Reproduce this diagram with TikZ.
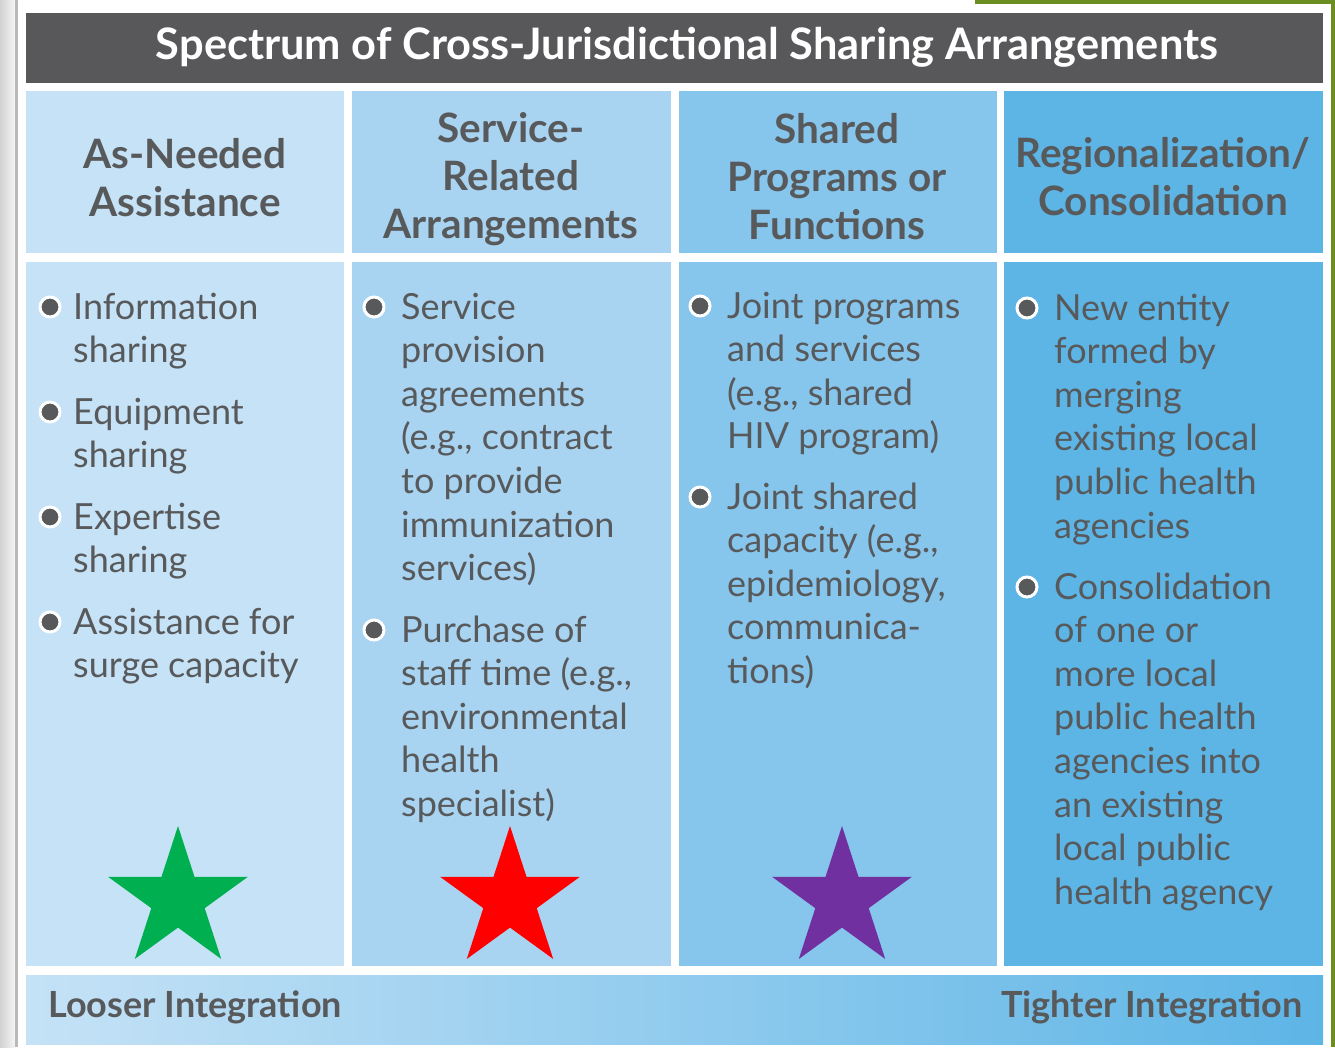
\documentclass[tikz,border=0pt]{standalone}
\usepackage{fontspec}
\setmainfont{Lato}
\usetikzlibrary{shapes.geometric}
\definecolor{txt}{HTML}{58595B}
\definecolor{ttl}{HTML}{58585A}
\definecolor{cA}{HTML}{C5E2F6}
\definecolor{cB}{HTML}{A8D4F2}
\definecolor{cC}{HTML}{86C5EC}
\definecolor{cD}{HTML}{5DB5E6}
\definecolor{stG}{HTML}{00B050}
\definecolor{stR}{HTML}{FF0000}
\definecolor{stP}{HTML}{7030A0}
\definecolor{frameG}{HTML}{6B8E23}
\begin{document}
\begin{tikzpicture}[x=1pt,y=-1pt,
  hdr/.style={anchor=base, text=txt, font=\fontsize{40.5}{48}\selectfont\bfseries, inner sep=0},
  item/.style={anchor=base west, text=txt, font=\fontsize{36}{43.6}\selectfont, inner sep=0},
  dot/.style={circle, fill=txt, draw=white, line width=3pt, minimum size=20pt, inner sep=0},
  bigstar/.style={star, star points=5, star point ratio=2.618, minimum size=147pt, inner sep=0, draw=none},
  band/.style={text=txt, font=\fontsize{36}{40}\selectfont\bfseries, inner sep=0}]

\useasboundingbox (0,0) rectangle (1335,1047);
\fill[white] (0,0) rectangle (1335,1047);
% frame surroundings
\shade[left color=gray!35, right color=gray!8] (0,0) rectangle (15,1047);
\fill[gray!55] (15,0) rectangle (18,1047);
\fill[frameG] (1331,0) rectangle (1335,1047);
\fill[frameG] (975,0) rectangle (1335,4);

% title
\fill[ttl] (26,13) rectangle (1323,83);
\node[text=white, font=\fontsize{43.4}{48}\selectfont\bfseries, anchor=base, inner sep=0] (title) at (687,59) {Spectrum of Cross-Jurisdictional Sharing Arrangements};

% header cells
\fill[cA] (26,91) rectangle (344,253);
\fill[cB] (352,91) rectangle (671,253);
\fill[cC] (679,91) rectangle (997,253);
\fill[cD] (1004,91) rectangle (1323,253);
% body cells
\fill[cA] (26,262) rectangle (344,966);
\fill[cB] (352,262) rectangle (671,966);
\fill[cC] (679,262) rectangle (997,966);
\fill[cD] (1004,262) rectangle (1323,966);

% headers
\node[hdr] (h1) at (185,168) {\parbox[t]{318pt}{\centering As-Needed\\Assistance}};
\node[hdr] (h2) at (511,142) {\parbox[t]{318pt}{\centering Service-\\Related\\Arrangements}};
\node[hdr] (h3) at (837,143) {\parbox[t]{318pt}{\centering Shared\\Programs or\\Functions}};
\node[hdr] (h4) at (1163,167) {\parbox[t]{318pt}{\centering Regionalization/\\Consolidation}};

% column 1
\node[dot] (b11) at (50,307) {};
\node[item] (t11) at (73,319) {\parbox[t]{270pt}{\raggedright Information\\sharing}};
\node[dot] (b12) at (50,412) {};
\node[item] (t12) at (73,424) {\parbox[t]{270pt}{\raggedright Equipment\\sharing}};
\node[dot] (b13) at (50,517) {};
\node[item] (t13) at (73,529) {\parbox[t]{270pt}{\raggedright Expertise\\sharing}};
\node[dot] (b14) at (50,622) {};
\node[item] (t14) at (73,634) {\parbox[t]{270pt}{\raggedright Assistance for\\surge capacity}};

% column 2
\node[dot] (b21) at (374,307) {};
\node[item] (t21) at (401,319) {\parbox[t]{270pt}{\raggedright Service\\provision\\agreements\\(e.g., contract\\to provide\\immunization\\services)}};
\node[dot] (b22) at (374,630) {};
\node[item] (t22) at (401,642) {\parbox[t]{270pt}{\raggedright Purchase of\\staff time (e.g.,\\environmental\\health\\specialist)}};

% column 3
\node[dot] (b31) at (700,306) {};
\node[item] (t31) at (727,318) {\parbox[t]{270pt}{\raggedright Joint programs\\and services\\(e.g., shared\\HIV program)}};
\node[dot] (b32) at (700,497) {};
\node[item] (t32) at (727,509) {\parbox[t]{270pt}{\raggedright Joint shared\\capacity (e.g.,\\epidemiology,\\communica-\\tions)}};

% column 4
\node[dot] (b41) at (1027,308) {};
\node[item] (t41) at (1054,320) {\parbox[t]{270pt}{\raggedright New entity\\formed by\\merging\\existing local\\public health\\agencies}};
\node[dot] (b42) at (1027,587) {};
\node[item] (t42) at (1054,599) {\parbox[t]{270pt}{\raggedright Consolidation\\of one or\\more local\\public health\\agencies into\\an existing\\local public\\health agency}};

% stars
\node[bigstar, fill=stG] (s1) at (178,899.5) {};
\node[bigstar, fill=stR] (s2) at (510,899.5) {};
\node[bigstar, fill=stP] (s3) at (842,899.5) {};

% integration band
\shade[left color=cA, right color=cD] (26,975) rectangle (1323,1044);
\node[band, anchor=base west] (loose) at (48,1017) {Looser Integration};
\node[band, anchor=base east] (tight) at (1303,1017) {Tighter Integration};
\end{tikzpicture}
\end{document}
